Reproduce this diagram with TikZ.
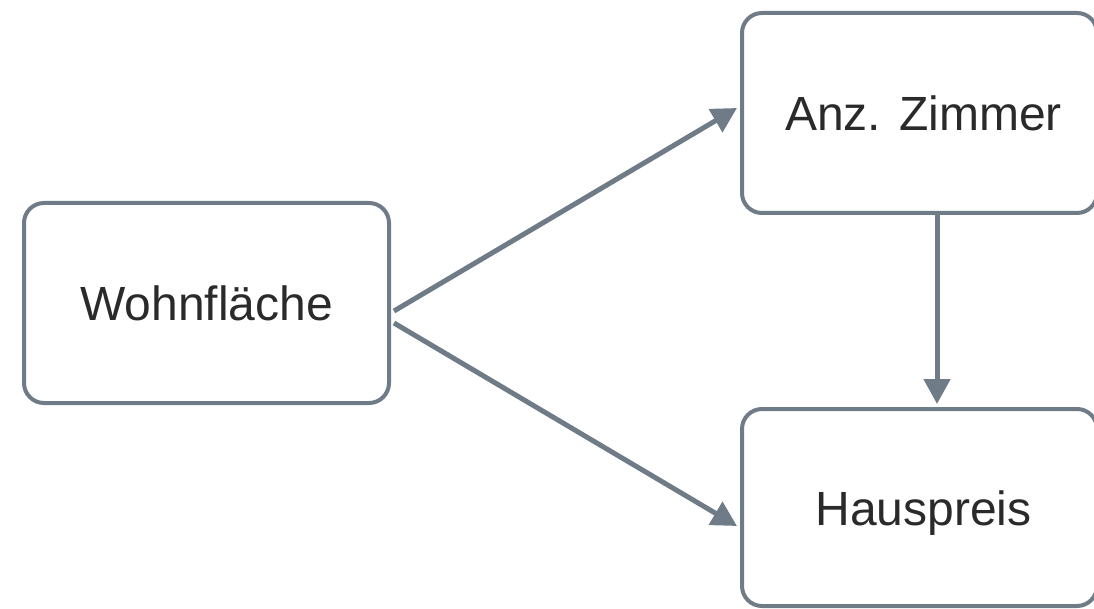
\documentclass[tikz,border=0pt]{standalone}
\usepackage{fontspec}
\setmainfont{Liberation Sans}
\usetikzlibrary{arrows.meta}
\definecolor{edge}{HTML}{6F7C88}
\definecolor{txt}{HTML}{2A2A2A}
\tikzset{
  box/.style={draw=edge, line width=4pt, rounded corners=20pt, fill=white,
    inner sep=0pt, font=\fontsize{48}{54}\selectfont, text=txt, anchor=center},
  link/.style={draw=edge, line width=5pt, -{Triangle[length=25pt,width=26pt]}}
}
\begin{document}
\begin{tikzpicture}[x=1pt,y=-1pt]
\useasboundingbox (0,0) rectangle (1094,609);
\node[box, minimum width=365pt, minimum height=200pt] (W) at (206.5,303) {Wohnfläche};
\node[box, minimum width=355pt, minimum height=200pt] (A) at (919.5,113) {\hspace*{8pt}Anz. Zimmer};
\node[box, minimum width=355pt, minimum height=197pt] (H) at (919.5,507.5) {\raisebox{-6pt}[\height][\depth]{\hspace*{8pt}Hauspreis}};
\draw[link] ([xshift=3pt,yshift=-8pt]W.east) -- ([xshift=-3pt,yshift=5pt]A.west);
\draw[link] ([xshift=3pt,yshift=-20pt]W.east) -- ([xshift=-3pt,yshift=-18.5pt]H.west);
\draw[link] ([xshift=17.5pt]A.south) -- ([xshift=17.5pt,yshift=3pt]H.north);
\end{tikzpicture}
\end{document}
